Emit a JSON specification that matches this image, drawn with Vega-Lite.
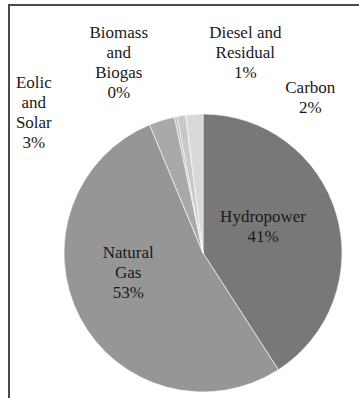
{
  "$schema": "https://vega.github.io/schema/vega-lite/v6.json",
  "autosize": "none",
  "padding": {"left": 9, "top": 5, "right": -38, "bottom": -103},
  "width": 388,
  "height": 496,
  "background": "white",
  "view": {"stroke": "#4a4a4a", "strokeWidth": 2},
  "data": {"values": [
    {"source": "Hydropower", "label": "Hydropower\n41%", "share": 41, "order": 1},
    {"source": "Natural Gas", "label": "Natural\nGas\n53%", "share": 53, "order": 2},
    {"source": "Eolic and Solar", "label": "Eolic\nand\nSolar\n3%", "share": 3, "order": 3},
    {"source": "Biomass and Biogas", "label": "Biomass\nand\nBiogas\n0%", "share": 0.3, "order": 4},
    {"source": "Diesel and Residual", "label": "Diesel and\nResidual\n1%", "share": 1, "order": 5},
    {"source": "Carbon", "label": "Carbon\n2%", "share": 2, "order": 6}
  ]},
  "encoding": {
    "theta": {"field": "share", "type": "quantitative", "stack": true},
    "order": {"field": "order", "type": "quantitative"}
  },
  "layer": [
    {
      "mark": {"type": "arc", "outerRadius": 139, "stroke": "white", "strokeWidth": 0.6},
      "encoding": {
        "color": {"field": "source", "type": "nominal", "legend": null,
          "scale": {"domain": ["Hydropower", "Natural Gas", "Eolic and Solar", "Biomass and Biogas", "Diesel and Residual", "Carbon"],
                    "range": ["#787878", "#969696", "#a9a9a9", "#bcbcbc", "#c8c8c8", "#d9d9d9"]}}
      }
    },
    {
      "mark": {"type": "text", "radius": 72, "dx": -9, "dy": -16, "font": "Liberation Serif", "fontSize": 17, "lineHeight": 20, "lineBreak": "\n", "color": "#1a1a1a"},
      "encoding": {"text": {"condition": {"test": "datum.source === 'Hydropower'", "field": "label"}, "value": ""}}
    },
    {
      "mark": {"type": "text", "radius": 72, "dx": -11, "dy": -33, "font": "Liberation Serif", "fontSize": 17, "lineHeight": 20, "lineBreak": "\n", "color": "#1a1a1a"},
      "encoding": {"text": {"condition": {"test": "datum.source === 'Natural Gas'", "field": "label"}, "value": ""}}
    },
    {
      "mark": {"type": "text", "radius": 139, "dx": -128, "dy": -37, "font": "Liberation Serif", "fontSize": 17, "lineHeight": 20, "lineBreak": "\n", "color": "#1a1a1a"},
      "encoding": {"text": {"condition": {"test": "datum.source === 'Eolic and Solar'", "field": "label"}, "value": ""}}
    },
    {
      "mark": {"type": "text", "radius": 139, "dx": -57, "dy": -84, "font": "Liberation Serif", "fontSize": 17, "lineHeight": 20, "lineBreak": "\n", "color": "#1a1a1a"},
      "encoding": {"text": {"condition": {"test": "datum.source === 'Biomass and Biogas'", "field": "label"}, "value": ""}}
    },
    {
      "mark": {"type": "text", "radius": 139, "dx": 64, "dy": -83, "font": "Liberation Serif", "fontSize": 17, "lineHeight": 20, "lineBreak": "\n", "color": "#1a1a1a"},
      "encoding": {"text": {"condition": {"test": "datum.source === 'Diesel and Residual'", "field": "label"}, "value": ""}}
    },
    {
      "mark": {"type": "text", "radius": 139, "dx": 116, "dy": -26, "font": "Liberation Serif", "fontSize": 17, "lineHeight": 20, "lineBreak": "\n", "color": "#1a1a1a"},
      "encoding": {"text": {"condition": {"test": "datum.source === 'Carbon'", "field": "label"}, "value": ""}}
    }
  ]
}
